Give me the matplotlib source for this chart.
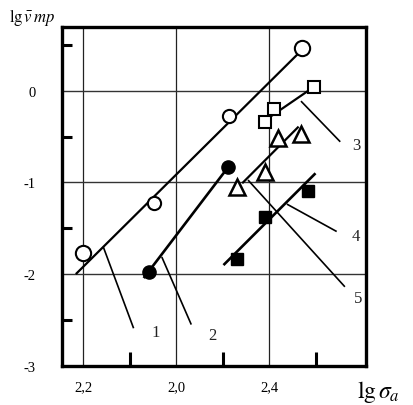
import numpy as np
import matplotlib
matplotlib.use('Agg')
import matplotlib.pyplot as plt

plt.rcParams['font.family'] = ['Liberation Serif', 'DejaVu Serif']
plt.rcParams['mathtext.fontset'] = 'stix'

# ---- data ----
# series 1: open circles
x1 = [2.200, 2.276, 2.357, 2.436]
y1 = [-1.77, -1.22, -0.28, 0.47]
line1_x = [2.193, 2.432]
line1_y = [-1.99, 0.41]

# series 2: filled circles
x2 = [2.271, 2.356]
y2 = [-1.98, -0.83]
line2_x = [2.266, 2.354]
line2_y = [-2.03, -0.86]

# series 3: open squares
x3 = [2.396, 2.405, 2.448]
y3 = [-0.34, -0.20, 0.035]
line3_x = [2.399, 2.443]
line3_y = [-0.30, 0.005]

# series 5: open triangles
x5 = [2.366, 2.396, 2.410, 2.434]
y5 = [-1.05, -0.89, -0.52, -0.475]
line5_x = [2.372, 2.431]
line5_y = [-1.00, -0.40]

# series 4: filled squares
x4 = [2.366, 2.396, 2.442]
y4 = [-1.83, -1.375, -1.095]
line4_x = [2.352, 2.449]
line4_y = [-1.89, -0.91]

# curve labels: (start on line, end of leader, text position)
leader_labels = ['1', '2', '3', '4', '5']
leader_start = [(2.222, -1.71), (2.285, -1.82), (2.435, -0.12), (2.420, -1.24), (2.378, -0.98)]
leader_end = [(2.254, -2.58), (2.316, -2.54), (2.476, -0.55), (2.472, -1.53), (2.481, -2.13)]
label_pos = [(2.274, -2.63), (2.335, -2.66), (2.490, -0.59), (2.489, -1.58), (2.491, -2.26)]

xticks = [2.2, 2.3, 2.4]
xtick_labels = ['2,2', '2,0', '2,4']
yticks = [0, -1, -2, -3]
ytick_labels = ['0', '-1', '-2', '-3']

# marker size of each open circle (end points drawn larger)
circle_ms = [11, 9.5, 9.5, 11]

fig = plt.figure(figsize=(4.14, 4.06), dpi=100)
ax = fig.add_axes([0.150, 0.096, 0.734, 0.835])

ax.set_xlim(2.1774, 2.5043)
ax.set_ylim(-3.0, 0.694)

# grid
for gx in xticks:
    ax.axvline(gx, color='#222222', lw=0.9, zorder=1)
for gy in [0, -1, -2]:
    ax.axhline(gy, color='#333333', lw=1.0, zorder=1)

lw = 1.6
ax.plot(line1_x, line1_y, color='black', lw=lw, zorder=2)
ax.plot(line2_x, line2_y, color='black', lw=lw + 0.3, zorder=2)
ax.plot(line3_x, line3_y, color='black', lw=lw, zorder=2)
ax.plot(line4_x, line4_y, color='black', lw=lw + 0.3, zorder=2)
ax.plot(line5_x, line5_y, color='black', lw=lw, zorder=2)

for xx, yy, ms in zip(x1, y1, circle_ms):
    ax.plot(xx, yy, 'o', ms=ms, mfc='white', mec='black', mew=1.5, zorder=3)
ax.plot(x2, y2, 'o', ms=9.5, mfc='black', mec='black', zorder=3)
ax.plot(x3, y3, 's', ms=9, mfc='white', mec='black', mew=1.5, zorder=3)
ax.plot(x5, y5, '^', ms=12, mfc='white', mec='black', mew=1.8, zorder=3)
ax.plot(x4, y4, 's', ms=8, mfc='black', mec='black', zorder=3)

# leaders and numbers
for lab, s, e, p in zip(leader_labels, leader_start, leader_end, label_pos):
    ax.plot([s[0], e[0]], [s[1], e[1]], color='black', lw=1.2, zorder=2)
    ax.text(p[0], p[1], lab, fontsize=12, ha='left', va='center', color='#222222')

# ticks
ax.set_xticks(xticks)
ax.set_xticklabels(xtick_labels, fontsize=10.5)
ax.set_yticks(yticks)
ax.set_yticklabels(ytick_labels, fontsize=10.5)
ax.tick_params(which='major', length=0)
ax.tick_params(axis='x', which='major', pad=10)
ax.tick_params(axis='y', which='major', pad=19)
ax.set_xticks([2.25, 2.35, 2.45], minor=True)
ax.set_yticks([0.5, -0.5, -1.5, -2.5], minor=True)
ax.tick_params(axis='x', which='minor', direction='in', length=10, width=2.2)
ax.tick_params(axis='y', which='minor', direction='in', length=7, width=2.2)

for sp in ax.spines.values():
    sp.set_linewidth(2.4)

fig.text(0.077, 0.957, r'$\mathrm{lg}\,\bar{v}\,mp$', fontsize=12, ha='center', va='center')
fig.text(0.915, 0.035, r'$\mathrm{lg}\,\sigma_a$', fontsize=17, ha='center', va='center')

fig.savefig('out.png', dpi=100)
